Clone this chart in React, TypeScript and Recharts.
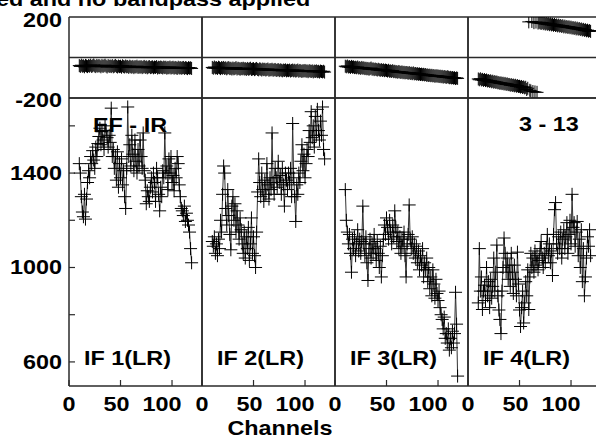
import React from 'react';
import { LineChart, Line, XAxis, YAxis, ReferenceLine } from 'recharts';

// ---------- data ----------
const FIRST_CHANNEL = 10;
const TITLE = 'ed and no bandpass applied';
const X_TITLE = 'Channels';
const BASELINE_LABEL = 'EF - IR';
const TIME_LABEL = '3 - 13';
const IF_LABELS = ['IF 1(LR)', 'IF 2(LR)', 'IF 3(LR)', 'IF 4(LR)'];
const X_TICKS = [0, 50, 100];
const X_MINOR_TICKS = [50, 100];
const AMP_TICKS = [600, 800, 1000, 1200, 1400, 1600];
const AMP_TICK_LABELS = [600, 1000, 1400];
const PHASE_TICKS = [-200, 200];
const X_DOMAIN = [0, 129.1];
const AMP_DOMAIN = [498, 1718];
const PHASE_DOMAIN = [-200, 200];

const AMP_IF1 = [
  1440, 1400, 1300, 1235, 1215, 1310, 1205, 1290, 1360, 1410,
  1380, 1470, 1440, 1495, 1455, 1420, 1510, 1470, 1525, 1555,
  1590, 1520, 1575, 1540, 1500, 1600, 1580, 1550, 1510, 1560,
  1530, 1675, 1470, 1500, 1420, 1470, 1370, 1490, 1340, 1440,
  1380, 1460, 1350, 1410, 1300, 1250, 1420, 1680, 1470, 1520,
  1430, 1560, 1480, 1410, 1540, 1450, 1400, 1500, 1430, 1540,
  1470, 1420, 1570, 1410, 1370, 1270, 1325, 1300, 1280, 1340,
  1380, 1320, 1400, 1360, 1280, 1420, 1380, 1310, 1240, 1340,
  1300, 1410, 1380, 1570, 1400, 1430, 1330, 1460, 1400, 1470,
  1360, 1390, 1325, 1420, 1380, 1470, 1440, 1350, 1300, 1250,
  1240, 1220, 1260, 1195, 1230, 1200, 1180, 1150, 1080, 1020,
];
const AMP_IF2 = [
  1110, 1090, 1130, 1060, 1100, 1050, 1120, 1080, 1200, 1150,
  1310, 1430, 1400, 1250, 1180, 1330, 1220, 1140, 1075, 1260,
  1300, 1200, 1270, 1150, 1240, 1180, 1120, 1210, 1160, 1100,
  1060, 1150, 1040, 1130, 1080, 1170, 1030, 1100, 1210, 1060,
  1130, 1050, 1000, 1150, 1320, 1460, 1360, 1300, 1400, 1330,
  1280, 1370, 1310, 1440, 1350, 1290, 1380, 1330, 1570, 1360,
  1310, 1420, 1380, 1340, 1450, 1360, 1390, 1310, 1420, 1350,
  1260, 1400, 1370, 1330, 1400, 1360, 1420, 1300, 1610, 1380,
  1300, 1195, 1350, 1310, 1400, 1360, 1450, 1520, 1410, 1480,
  1380, 1440, 1500, 1470, 1580, 1530, 1660, 1550, 1600, 1510,
  1640, 1560, 1670, 1580, 1540, 1620, 1560, 1680, 1500, 1460,
];
const AMP_IF3 = [
  1330, 1200, 1150, 1100, 1140, 1060, 980, 1120, 1080, 1130,
  1050, 1100, 1160, 1070, 1120, 1060, 1110, 1260, 1100, 1050,
  1130, 1020, 945, 1080, 1120, 1040, 1100, 1060, 1140, 1080,
  1030, 1110, 1060, 1000, 1090, 960, 1050, 1120, 1180, 1140,
  1210, 1170, 1120, 1200, 1150, 1100, 1180, 1130, 1240, 1170,
  1110, 1150, 1080, 1130, 1060, 1120, 1090, 1150, 1050, 960,
  1100, 1140, 1265, 1120, 1080, 1130, 1060, 1100, 1040, 1090,
  1020, 1070, 990, 1050, 1010, 1080, 960, 1020, 990, 1040,
  940, 1000, 910, 960, 880, 990, 930, 870, 950, 890,
  860, 900, 830, 800, 780, 740, 790, 700, 720, 680,
  740, 650, 700, 660, 730, 680, 720, 895, 760, 540,
];
const AMP_IF4 = [
  850, 1080, 900, 960, 822, 900, 925, 860, 1000, 880,
  940, 830, 950, 870, 920, 1040, 900, 980, 1095, 880,
  820, 780, 720, 900, 1000, 1125, 1060, 980, 1040, 950,
  1010, 920, 1060, 980, 890, 1010, 950, 880, 1065, 930,
  820, 750, 830, 900, 765, 850, 940, 880, 990, 822,
  960, 1060, 1000, 1040, 980, 1070, 1010, 1050, 990, 1030,
  1080, 1110, 1040, 1000, 1060, 1020, 1080, 1140, 1050, 1100,
  1020, 1070, 966, 1140, 1245, 1275, 1100, 1060, 1130, 1080,
  1150, 1040, 1120, 1160, 1080, 1130, 1190, 1060, 1140, 1200,
  1100, 1310, 1170, 1190, 1090, 1150, 1195, 1050, 1120, 1000,
  1160, 940, 1080, 880, 960, 1040, 1130, 1090, 1160, 1050,
];

const PH_IF1 = [
  -40, -44, -38, -43, -41, -46, -39, -42, -45, -40,
  -43, -38, -44, -41, -37, -42, -45, -39, -43, -40,
  -42, -46, -39, -44, -41, -38, -43, -47, -40, -44,
  -42, -45, -40, -46, -43, -39, -44, -47, -42, -45,
  -43, -48, -41, -45, -47, -42, -46, -44, -49, -43,
  -46, -48, -44, -50, -45, -47, -43, -49, -46, -48,
  -45, -50, -47, -44, -49, -46, -51, -47, -45, -50,
  -48, -46, -51, -47, -49, -45, -52, -48, -50, -47,
  -49, -52, -47, -50, -48, -53, -49, -51, -47, -52,
  -50, -48, -53, -49, -51, -54, -48, -52, -50, -53,
  -51, -49, -54, -50, -52, -55, -50, -53, -51, -54,
];
const PH_IF2 = [
  -49, -53, -47, -52, -50, -54, -48, -51, -55, -50,
  -53, -49, -54, -51, -56, -52, -50, -55, -53, -57,
  -52, -56, -54, -50, -57, -53, -55, -58, -54, -56,
  -53, -57, -55, -59, -54, -58, -56, -53, -59, -57,
  -55, -60, -57, -54, -59, -61, -56, -58, -62, -57,
  -60, -58, -62, -59, -57, -63, -60, -61, -58, -63,
  -61, -59, -64, -62, -60, -65, -61, -63, -66, -62,
  -64, -61, -66, -63, -65, -62, -67, -64, -62, -66,
  -63, -67, -65, -62, -68, -64, -66, -69, -65, -67,
  -64, -68, -66, -70, -65, -67, -69, -66, -71, -67,
  -69, -66, -70, -68, -72, -67, -69, -71, -68, -72,
];
const PH_IF3 = [
  -43, -46, -42, -47, -45, -49, -44, -48, -46, -50,
  -48, -51, -47, -52, -50, -54, -49, -53, -51, -55,
  -53, -56, -54, -58, -55, -52, -58, -56, -60, -57,
  -59, -62, -58, -61, -63, -60, -64, -61, -65, -62,
  -64, -67, -63, -68, -66, -69, -65, -70, -68, -71,
  -70, -73, -69, -72, -74, -71, -75, -73, -76, -74,
  -75, -78, -74, -79, -77, -80, -76, -81, -79, -82,
  -80, -83, -81, -84, -82, -85, -83, -86, -84, -88,
  -86, -89, -87, -90, -88, -91, -89, -93, -90, -92,
  -91, -94, -92, -95, -93, -97, -94, -96, -98, -95,
  -97, -100, -98, -101, -99, -102, -100, -104, -101, -103,
];
const PH_IF4 = [
  -106, -110, -105, -111, -108, -113, -109, -114, -111, -116,
  -114, -118, -115, -120, -117, -122, -119, -123, -121, -125,
  -124, -128, -125, -129, -127, -131, -128, -133, -130, -134,
  -133, -137, -134, -138, -136, -140, -137, -142, -139, -143,
  -142, -146, -143, -148, -145, -150, -147, -158, -152, 176,
  -162, -165, 178, -168, 172, -170, 175, -172, 170, 174,
  171, 168, 173, 167, 170, 165, 169, 164, 167, 162,
  166, 161, 164, 159, 163, 158, 161, 156, 160, 155,
  158, 153, 157, 151, 155, 150, 153, 148, 152, 147,
  150, 145, 148, 143, 147, 141, 145, 140, 143, 138,
  141, 136, 139, 134, 137, 132, 135, 130, 133, 129,
];

const AMP_SERIES = [AMP_IF1, AMP_IF2, AMP_IF3, AMP_IF4];
const PHASE_SERIES = [PH_IF1, PH_IF2, PH_IF3, PH_IF4];

const TABLES = AMP_SERIES.map((amps, k) =>
  amps.map((amp, i) => ({ ch: FIRST_CHANNEL + i, amp, ph: PHASE_SERIES[k][i] }))
);

// ---------- layout & style ----------
const W = 612;
const H = 439;
const PANEL_LEFT = [69, 202, 335, 468];
const PANEL_W = 133;
const PHASE_TOP = 17;
const PHASE_BOTTOM = 98;
const AMP_BOTTOM = 386;
const INK = '#2a2a2a';
const FONT = {
  fontFamily: "'Liberation Sans', Arial, Helvetica, sans-serif",
  fontWeight: 700 as const,
  fontSize: 19.5,
  fill: '#000',
};
const AXIS_LINE = { stroke: INK, strokeWidth: 1.5 };
const TICK_LINE = { stroke: INK, strokeWidth: 1.2 };

function Word({ x, y, anchor = 'start', children }: any) {
  return (
    <text transform={`translate(${x},${y}) scale(1.2,1)`} textAnchor={anchor} {...FONT}>
      {children}
    </text>
  );
}

const renderCross = (p: any) => {
  const { cx, cy, index } = p;
  if (cx == null || cy == null || isNaN(cx) || isNaN(cy)) return <g key={`c${index}`} />;
  return (
    <path
      key={`c${index}`}
      d={`M${cx - 6.5},${cy}H${cx + 6.5}M${cx},${cy - 6.5}V${cy + 6.5}`}
      stroke="#000"
      strokeWidth={1}
      fill="none"
    />
  );
};

const X_LABEL_SHIFT: Record<number, number> = { 0: 0, 50: -4, 100: -10 };
const renderXTick = (p: any) => {
  const v = p.payload.value;
  return (
    <Word x={p.x + (X_LABEL_SHIFT[v] ?? 0)} y={p.y + 31} anchor="middle">
      {v}
    </Word>
  );
};
const renderAmpYTick = (p: any) => {
  const v = p.payload.value;
  if (!AMP_TICK_LABELS.includes(v)) return <g />;
  return (
    <Word x={p.x - 13} y={p.y + 7} anchor="end">
      {v}
    </Word>
  );
};
const renderPhaseYTick = (p: any) => {
  const v = p.payload.value;
  return (
    <Word x={p.x - 13} y={p.y + (v > 0 ? 10 : 9)} anchor="end">
      {v}
    </Word>
  );
};

function Panel({ col, kind }: { col: number; kind: 'amp' | 'phase' }) {
  const x0 = PANEL_LEFT[col];
  const isAmp = kind === 'amp';
  const top = isAmp ? PHASE_BOTTOM : PHASE_TOP;
  const bottom = isAmp ? AMP_BOTTOM : PHASE_BOTTOM;
  const margin = {
    left: x0 - 1,
    right: W - x0 - PANEL_W - 1,
    top: top - 1,
    bottom: H - bottom - 1,
  };
  const yDomain = isAmp ? AMP_DOMAIN : PHASE_DOMAIN;
  const yTicks = isAmp ? AMP_TICKS : PHASE_TICKS;
  return (
    <div style={{ position: 'absolute', left: 0, top: 0, width: W, height: H, pointerEvents: 'none' }}>
      <LineChart width={W} height={H} data={TABLES[col]} margin={margin}>
        <XAxis
          xAxisId="b"
          dataKey="ch"
          type="number"
          domain={X_DOMAIN}
          allowDataOverflow
          ticks={isAmp ? X_TICKS : X_MINOR_TICKS}
          interval={0}
          height={1}
          tickSize={isAmp ? -6 : -4}
          tickMargin={0}
          axisLine={AXIS_LINE}
          tickLine={TICK_LINE}
          tick={isAmp ? renderXTick : false}
        />
        <XAxis
          xAxisId="t"
          orientation="top"
          type="number"
          domain={X_DOMAIN}
          allowDataOverflow
          ticks={X_MINOR_TICKS}
          interval={0}
          height={1}
          tickSize={isAmp ? -3 : -5}
          tickMargin={0}
          axisLine={AXIS_LINE}
          tickLine={TICK_LINE}
          tick={false}
        />
        <YAxis
          yAxisId="l"
          type="number"
          domain={yDomain}
          allowDataOverflow
          ticks={yTicks}
          interval={0}
          width={1}
          tickSize={-6}
          tickMargin={0}
          axisLine={AXIS_LINE}
          tickLine={isAmp ? TICK_LINE : false}
          tick={col === 0 ? (isAmp ? renderAmpYTick : renderPhaseYTick) : false}
        />
        <YAxis
          yAxisId="r"
          orientation="right"
          type="number"
          domain={yDomain}
          allowDataOverflow
          ticks={yTicks}
          interval={0}
          width={1}
          tickSize={-6}
          tickMargin={0}
          axisLine={AXIS_LINE}
          tickLine={isAmp ? TICK_LINE : false}
          tick={false}
        />
        {!isAmp && (
          <ReferenceLine xAxisId="b" yAxisId="l" y={0} stroke={INK} strokeWidth={1.3} />
        )}
        <Line
          xAxisId="b"
          yAxisId="l"
          dataKey={isAmp ? 'amp' : 'ph'}
          stroke={isAmp ? '#333' : 'none'}
          strokeWidth={1}
          dot={renderCross}
          activeDot={false}
          isAnimationActive={false}
        />
      </LineChart>
    </div>
  );
}

export default function App() {
  return (
    <div
      style={{
        position: 'absolute',
        left: 0,
        top: 0,
        width: 596,
        height: 439,
        overflow: 'hidden',
        background: '#fff',
      }}
    >
      {[0, 1, 2, 3].map((c) => (
        <React.Fragment key={c}>
          <Panel col={c} kind="phase" />
          <Panel col={c} kind="amp" />
        </React.Fragment>
      ))}
      <svg
        width={596}
        height={439}
        style={{ position: 'absolute', left: 0, top: 0, pointerEvents: 'none' }}
      >
        <Word x={-4} y={6}>{TITLE}</Word>
        <Word x={280} y={435} anchor="middle">{X_TITLE}</Word>
        <Word x={93} y={132}>{BASELINE_LABEL}</Word>
        <Word x={519} y={131}>{TIME_LABEL}</Word>
        {IF_LABELS.map((t, i) => (
          <Word key={t} x={PANEL_LEFT[i] + 15} y={365}>{t}</Word>
        ))}
      </svg>
    </div>
  );
}
